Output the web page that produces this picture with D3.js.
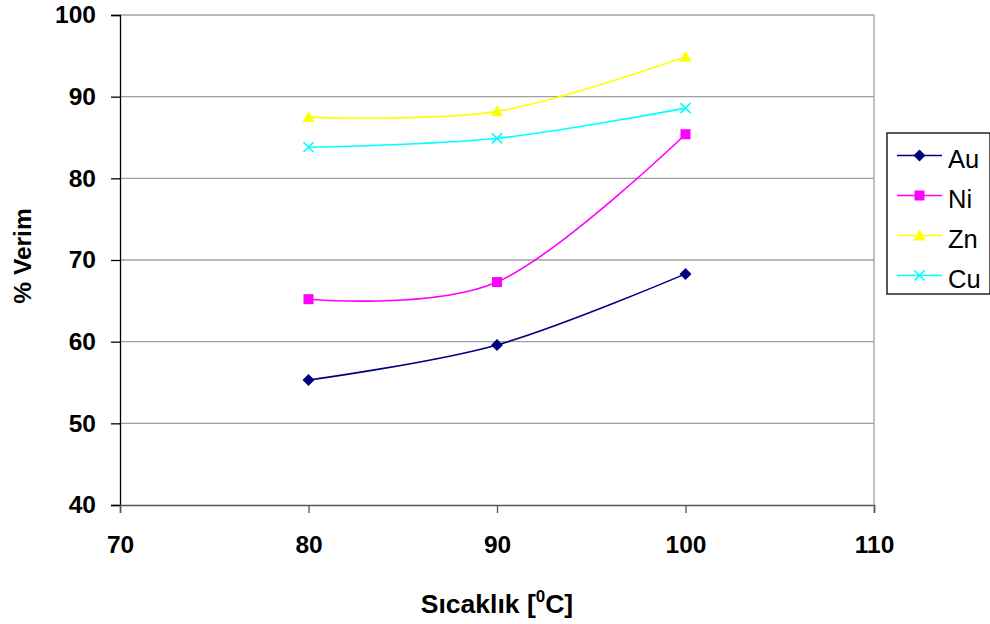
<!DOCTYPE html>
<html>
<head>
<meta charset="utf-8">
<script src="https://cdn.jsdelivr.net/npm/d3@7"></script>
<style>
  body { margin: 0; background: #fff; }
  svg { display: block; font-family: "Liberation Sans", Arial, sans-serif; }
</style>
</head>
<body>
<svg id="chart" width="990" height="624"></svg>
<script>
// Temperature (°C) and yield (%) per metal
const temperatures = [80, 90, 100];
const auValues = [55.3, 59.6, 68.3];
const niValues = [65.2, 67.3, 85.4];
const znValues = [87.5, 88.2, 94.9];
const cuValues = [83.8, 84.9, 88.6];
const seriesNames = ["Au", "Ni", "Zn", "Cu"];
const xTicks = [70, 80, 90, 100, 110];
const yTicks = [40, 50, 60, 70, 80, 90, 100];

const series = [
  { name: seriesNames[0], values: auValues, color: "#000080", marker: "diamond" },
  { name: seriesNames[1], values: niValues, color: "#ff00ff", marker: "square" },
  { name: seriesNames[2], values: znValues, color: "#ffff00", marker: "triangle" },
  { name: seriesNames[3], values: cuValues, color: "#00ffff", marker: "cross" }
];

const svg = d3.select("#chart");
const plot = { left: 120, right: 874, top: 15, bottom: 505 };

const x = d3.scaleLinear().domain([70, 110]).range([plot.left, plot.right]);
const y = d3.scaleLinear().domain([40, 100]).range([plot.bottom, plot.top]);

// horizontal gridlines
svg.append("g").selectAll("line").data(yTicks.filter(t => t > 40)).join("line")
  .attr("x1", plot.left).attr("x2", plot.right)
  .attr("y1", d => y(d)).attr("y2", d => y(d))
  .attr("stroke", "#a0a0a0").attr("stroke-width", 1.3);

// right edge of plot area
svg.append("line")
  .attr("x1", plot.right).attr("x2", plot.right)
  .attr("y1", plot.top).attr("y2", plot.bottom)
  .attr("stroke", "#a0a0a0").attr("stroke-width", 1.3);

// y axis
const yAxis = svg.append("g").attr("transform", `translate(${plot.left},0)`)
  .call(d3.axisLeft(y).tickValues(yTicks).tickSize(9).tickPadding(15));
yAxis.select(".domain").attr("stroke", "#000").attr("stroke-width", 1.3);
yAxis.selectAll(".tick line").attr("stroke", "#000").attr("stroke-width", 1.3);
yAxis.selectAll("text").attr("font-size", 24.5).attr("font-weight", "bold")
  .attr("fill", "#000").attr("font-family", "Liberation Sans, Arial, sans-serif");

// x axis
const xAxis = svg.append("g").attr("transform", `translate(0,${plot.bottom})`)
  .call(d3.axisBottom(x).tickValues(xTicks).tickSize(8).tickPadding(23));
xAxis.select(".domain").attr("stroke", "#555").attr("stroke-width", 1.5);
xAxis.selectAll(".tick line").attr("stroke", "#555").attr("stroke-width", 1.3);
xAxis.selectAll("text").attr("font-size", 24.5).attr("font-weight", "bold")
  .attr("fill", "#000").attr("font-family", "Liberation Sans, Arial, sans-serif");

// axis titles
const xTitle = svg.append("text")
  .attr("x", 497).attr("y", 613)
  .attr("text-anchor", "middle").attr("font-size", 26.5).attr("font-weight", "bold");
xTitle.append("tspan").text("Sıcaklık [");
xTitle.append("tspan").attr("font-size", 17).attr("dy", -11).text("0");
xTitle.append("tspan").attr("dy", 11).text("C]");

svg.append("text")
  .attr("transform", "translate(31,256) rotate(-90)")
  .attr("text-anchor", "middle").attr("font-size", 24.5).attr("font-weight", "bold")
  .text("% Verim");

// series lines (smoothed)
const line = d3.line()
  .x((d, i) => x(temperatures[i]))
  .y(d => y(d))
  .curve(d3.curveCatmullRom.alpha(0));

function drawMarker(g, type, color, cx, cy) {
  if (type === "diamond") {
    g.append("path").attr("d", `M${cx},${cy - 6}L${cx + 6},${cy}L${cx},${cy + 6}L${cx - 6},${cy}Z`)
      .attr("fill", color);
  } else if (type === "square") {
    g.append("rect").attr("x", cx - 5).attr("y", cy - 5).attr("width", 10).attr("height", 10)
      .attr("fill", color);
  } else if (type === "triangle") {
    g.append("path").attr("d", `M${cx},${cy - 6}L${cx + 6},${cy + 5}L${cx - 6},${cy + 5}Z`)
      .attr("fill", color);
  } else if (type === "cross") {
    g.append("path").attr("d", `M${cx - 5},${cy - 5}L${cx + 5},${cy + 5}M${cx - 5},${cy + 5}L${cx + 5},${cy - 5}`)
      .attr("stroke", color).attr("stroke-width", 1.6).attr("fill", "none");
  }
}

series.forEach(s => {
  const g = svg.append("g");
  g.append("path").datum(s.values).attr("d", line)
    .attr("fill", "none").attr("stroke", s.color).attr("stroke-width", 1.6);
  s.values.forEach((v, i) => drawMarker(g, s.marker, s.color, x(temperatures[i]), y(v)));
});

// legend
const legend = svg.append("g");
legend.append("rect").attr("x", 887).attr("y", 133).attr("width", 103).attr("height", 161)
  .attr("fill", "#fff").attr("stroke", "#000").attr("stroke-width", 1.3);
series.forEach((s, i) => {
  const ly = 155.5 + i * 40;
  legend.append("line").attr("x1", 897).attr("x2", 942).attr("y1", ly).attr("y2", ly)
    .attr("stroke", s.color).attr("stroke-width", 1.6);
  drawMarker(legend, s.marker, s.color, 919.5, ly);
  legend.append("text").attr("x", 948).attr("y", ly + 12.5).attr("font-size", 25.5)
    .attr("fill", "#000").text(s.name);
});
</script>
</body>
</html>
